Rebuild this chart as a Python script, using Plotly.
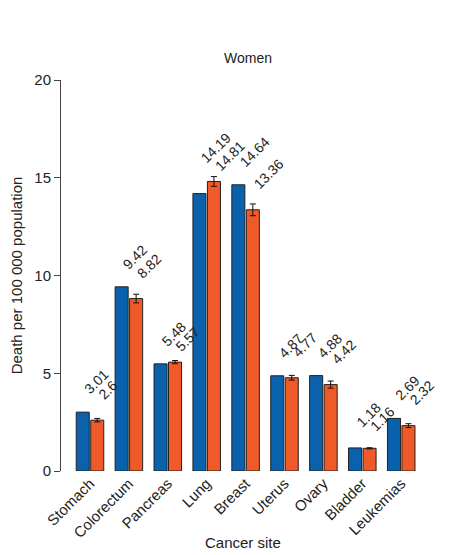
#### grouped bar chart: cancer deaths among women, two series with labels and error bars

import plotly.graph_objects as go

# data
sites = ['Stomach', 'Colorectum', 'Pancreas', 'Lung', 'Breast',
         'Uterus', 'Ovary', 'Bladder', 'Leukemias']
rate_a = [3.01, 9.42, 5.48, 14.19, 14.64, 4.87, 4.88, 1.18, 2.69]
rate_b = [2.6, 8.82, 5.57, 14.81, 13.36, 4.77, 4.42, 1.16, 2.32]
err_b = [0.09, 0.22, 0.08, 0.25, 0.3, 0.12, 0.18, 0.03, 0.1]
y_ticks = [0, 5, 10, 15, 20]

blue = '#0a62ad'
orange = '#f05a28'
font = 'Liberation Sans, Arial, sans-serif'

# small pixel nudges so the value labels sit like in the original
nudge_a = {'Lung': 13, 'Bladder': 3}
nudge_b = {'Pancreas': -10, 'Lung': -10, 'Bladder': -4}

fig = go.Figure()

fig.add_trace(go.Bar(
    x=sites, y=rate_a, name='A',
    marker=dict(color=blue, line=dict(color='#222222', width=1)),
))
fig.add_trace(go.Bar(
    x=sites, y=rate_b, name='B',
    marker=dict(color=orange, line=dict(color='#222222', width=1)),
    error_y=dict(type='data', array=err_b, color='#111111', thickness=1, width=3),
))

# rotated value labels above each bar
for site, a, b in zip(sites, rate_a, rate_b):
    fig.add_annotation(
        x=site, y=a, text=str(a), showarrow=False,
        textangle=-45, xanchor='left', yanchor='bottom',
        xshift=-12, yshift=12 + nudge_a.get(site, 0),
        font=dict(size=14, color='#222222', family=font),
    )
    fig.add_annotation(
        x=site, y=b, text=str(b), showarrow=False,
        textangle=-45, xanchor='left', yanchor='bottom',
        xshift=2, yshift=15 + nudge_b.get(site, 0),
        font=dict(size=14, color='#222222', family=font),
    )

# x axis title sits as an annotation so it stays inside the page
fig.add_annotation(
    text='Cancer site', xref='paper', yref='paper', x=0.493, y=-0.184,
    xanchor='center', yanchor='middle', showarrow=False,
    font=dict(size=15, color='#222222', family=font),
)

fig.update_layout(
    width=452, height=547,
    margin=dict(l=53, r=30, t=72, b=84),
    paper_bgcolor='white', plot_bgcolor='white',
    barmode='group', bargap=0.255, bargroupgap=0.1,
    showlegend=False,
    font=dict(family=font, color='#222222'),
    title=dict(text='Women', x=0.531, xanchor='center', y=0.909, yanchor='middle',
               font=dict(size=14, color='#222222')),
)

fig.update_yaxes(
    range=[0, 20], tickvals=y_ticks, showgrid=False, zeroline=False,
    showline=True, linecolor='#444444', linewidth=1, automargin=False,
    ticks='outside', ticklen=6, tickcolor='#444444',
    tickfont=dict(size=15, color='#222222'),
    title=dict(text='Death per 100 000 population', standoff=10,
               font=dict(size=15, color='#222222')),
)
fig.update_xaxes(
    range=[-0.745, 8.74], showgrid=False, zeroline=False, showline=False,
    automargin=False, ticks='', tickangle=-45,
    tickfont=dict(size=15, color='#222222'),
)

fig.write_html("out.html")
